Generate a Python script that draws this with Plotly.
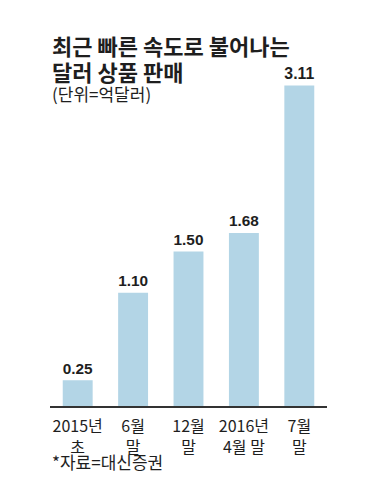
import plotly.graph_objects as go

categories = ["2015년<br>초", "6월<br>말", "12월<br>말", "2016년<br>4월 말", "7월<br>말"]
values = [0.25, 1.10, 1.50, 1.68, 3.11]
value_labels = ["0.25", "1.10", "1.50", "1.68", "3.11"]

title_lines = ["최근 빠른 속도로 불어나는", "달러 상품 판매"]
unit_text = "(단위=억달러)"
source_text = "*자료=대신증권"

NUMFONT = "Liberation Sans Narrow, Liberation Sans, sans-serif"
KFONT = "Noto Sans CJK KR, sans-serif"

# page body has an 8px margin; size the figure to fill the rest of the window
OFF = 8
W, H = 382 - OFF, 503 - OFF
L, R, T, B = 42, 55, 58, 97

fig = go.Figure(go.Bar(
    x=categories, y=values,
    marker=dict(color="#b3d5e6", line=dict(width=0)),
    text=["<b>%s</b>" % v for v in value_labels], textposition="outside", cliponaxis=False,
    textfont=dict(family=NUMFONT, size=18, color="#1e1e1e"),
))

fig.update_layout(
    width=W, height=H,
    margin=dict(l=L, r=R, t=T, b=B, autoexpand=False),
    paper_bgcolor="white", plot_bgcolor="white",
    bargap=0.46, showlegend=False,
    font=dict(family=KFONT, color="#1e1e1e"),
    xaxis=dict(showgrid=False, showline=True, linecolor="#333333", linewidth=1.5,
               ticks="", automargin=False, ticklabelstandoff=5,
               tickfont=dict(family=KFONT, size=16, color="#1e1e1e")),
    yaxis=dict(range=[0, 3.3], visible=False, showgrid=False, automargin=False),
)

ph = H - T - B
def py(win_pix):
    pix = win_pix - OFF
    return (H - B - pix) / ph

specs = [(45, 22, title_lines[0], True), (71, 22, title_lines[1], True),
         (93, 17, unit_text, False), (461, 17, source_text, False)]
anns = []
for (ypix, size, txt, bold) in specs:
    anns.append(dict(text=("<b>%s</b>" % txt) if bold else txt,
                     x=0, xref="paper", xanchor="left", xshift=0,
                     y=py(ypix), yref="paper", yanchor="middle",
                     showarrow=False,
                     font=dict(family=KFONT, size=size, color="#1e1e1e")))
fig.update_layout(annotations=anns)

fig.write_html("out.html")
